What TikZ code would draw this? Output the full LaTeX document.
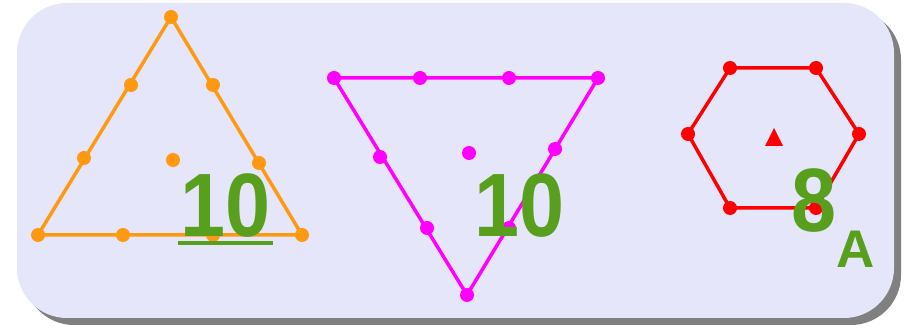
\documentclass[tikz,border=0pt]{standalone}
\usepackage{fontspec}
\newfontfamily\countfont{Liberation Sans Bold}
\newfontfamily\digitfont{Liberation Sans Bold}[FakeStretch=0.9]
\usetikzlibrary{calc}

\definecolor{panelbg}{RGB}{230,230,250}
\definecolor{panelshadow}{RGB}{128,128,128}
\definecolor{triorange}{RGB}{255,153,18}
\definecolor{trimagenta}{RGB}{255,0,255}
\definecolor{hexred}{RGB}{255,0,0}
\definecolor{countgreen}{RGB}{88,159,30}

\tikzset{
  edge line/.style={line width=3.5pt, line join=round},
  count label/.style={font=\digitfont\fontsize{90}{90}\selectfont, text=countgreen, inner sep=0pt},
  sub label/.style={font=\countfont\fontsize{53}{53}\selectfont, text=countgreen, inner sep=0pt},
}

\begin{document}
\begin{tikzpicture}[x=1pt,y=-1pt]

\useasboundingbox (0,0) rectangle (910,328);

% panel with shadow
\fill[panelshadow, rounded corners=50pt] (24,10) rectangle (901,325);
\fill[panelbg, rounded corners=50pt] (17,3) rectangle (894,318);

% orange triangle, point up
\coordinate (OT) at (171,17);
\coordinate (OL) at (38,235);
\coordinate (OR) at (302,235);
\coordinate (OL1) at (131,85);
\coordinate (OL2) at (84,158);
\coordinate (OB1) at (123,235);
\coordinate (OB2) at (213,235);
\coordinate (OR1) at (213,85);
\coordinate (OR2) at (259,163);
\coordinate (OC) at (173,160);

\draw[edge line, triorange] (OT)--(OL)--(OR)--cycle;
\foreach \p in {OT,OL,OR,OL1,OL2,OB1,OB2,OR1,OR2,OC}
  \fill[triorange] (\p) circle (7pt);

% magenta triangle, point down
\coordinate (ML) at (334,78);
\coordinate (MR) at (598,78);
\coordinate (MB) at (467,295);
\coordinate (MT1) at (420,78);
\coordinate (MT2) at (509,78);
\coordinate (ML1) at (380,157);
\coordinate (ML2) at (427,228);
\coordinate (MR1) at (555,149);
\coordinate (MR2) at (509,228);
\coordinate (MC) at (469,153);

\draw[edge line, trimagenta] (ML)--(MR)--(MB)--cycle;
\foreach \p in {ML,MR,MB,MT1,MT2,ML1,ML2,MR1,MR2,MC}
  \fill[trimagenta] (\p) circle (7pt);

% red hexagon
\coordinate (H1) at (730,68);
\coordinate (H2) at (816,68);
\coordinate (H3) at (859,134);
\coordinate (H4) at (816,208);
\coordinate (H5) at (730,208);
\coordinate (H6) at (688,134);

\draw[edge line, hexred] (H1)--(H2)--(H3)--(H4)--(H5)--(H6)--cycle;
\foreach \p in {H1,H2,H3,H4,H5,H6}
  \fill[hexred] (\p) circle (7pt);
\fill[hexred] (765,146)--(783,146)--(774,128)--cycle; % centre mark

% counts
\node[count label] (orangecount) at (226,206) {10};
\node[count label] (magentacount) at (520,206) {10};
\node[count label] (hexcount) at (814,201) {8};
\node[sub label] (hexsub) at (856,249) {A};

\coordinate (U1) at (178,243);
\coordinate (U2) at (273,243);
\draw[countgreen, line width=4pt] (U1)--(U2);

\end{tikzpicture}
\end{document}
